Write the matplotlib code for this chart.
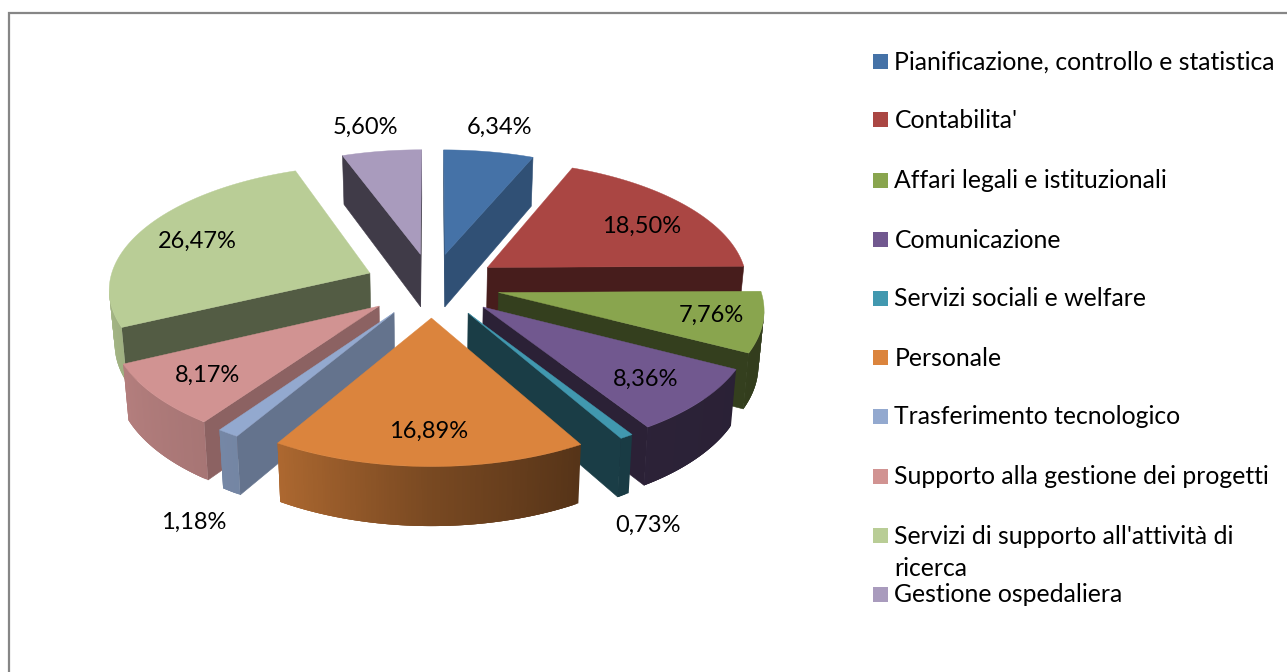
import numpy as np
import matplotlib
matplotlib.use("Agg")
import matplotlib.pyplot as plt
from matplotlib.patches import Polygon, Rectangle
from matplotlib.colors import to_rgb

# ---------- data ----------
categories = ["Pianificazione, controllo e statistica", "Contabilita'",
              "Affari legali e istituzionali", "Comunicazione",
              "Servizi sociali e welfare", "Personale",
              "Trasferimento tecnologico", "Supporto alla gestione dei progetti",
              "Servizi di supporto all'attività di\nricerca", "Gestione ospedaliera"]
values = [6.34, 18.50, 7.76, 8.36, 0.73, 16.89, 1.18, 8.17, 26.47, 5.60]
colors = ["#4572A7", "#AA4643", "#89A54E", "#71588F", "#4198AF",
          "#DB843D", "#93A9CF", "#D19392", "#B9CD96", "#A99BBD"]
cut_shade = [0.70, 0.42, 0.38, 0.38, 0.40, 0.40, 0.68, 0.67, 0.45, 0.38]

# ---------- layout ----------
W, H = 1287, 672
CX, CY = 432, 285
A, B, K = 261, 123.2, 0.115
EXPLODE = 0.26
DEPTH = 53.5
FONT = "Lato"
label_xy = [(500, 127), (642, 226), (711, 315), (646, 379), (648, 525),
            (429, 431), (194, 522), (208, 375), (197, 241), (365, 127)]
legend_y = [62, 120, 181, 240, 299, 358, 417, 477, 536, 595]


def top(u, v):
    w = 1 + K * v
    return CX + A * u / w, CY - B * v / w


def bottom(u, v):
    x, y = top(u, v)
    return CX + (x - CX) * 0.983, y + DEPTH / (1 + 0.7 * K * v)


def wall_shade(deg):
    return np.interp(deg, [90, 150, 180, 211, 245, 270],
                     [0.36, 0.39, 0.55, 0.79, 0.86, 0.90])


fig = plt.figure(figsize=(W / 100, H / 100), dpi=100)
ax = fig.add_axes([0, 0, 1, 1])
ax.set_xlim(0, W)
ax.set_ylim(H, 0)
ax.axis("off")

# chart frame
ax.plot([9, 9, W], [H, 13, 13], color="#868686", lw=1.6, solid_joinstyle="miter")

fractions = np.array(values) / sum(values)
edges = np.concatenate([[0], np.cumsum(fractions)]) * 360
draw_order = [0, 9, 1, 8, 2, 7, 3, 6, 4, 5]

for i in draw_order:
    a0, a1 = edges[i], edges[i + 1]
    mid = np.radians((a0 + a1) / 2)
    ou, ov = EXPLODE * np.sin(mid), EXPLODE * np.cos(mid)
    degs = np.linspace(a0, a1, max(int(a1 - a0) * 2, 4))
    us = ou + np.sin(np.radians(degs))
    vs = ov + np.cos(np.radians(degs))
    base = np.array(to_rgb(colors[i]))
    cut_col = tuple(base * cut_shade[i])
    z = 2 + draw_order.index(i)

    def cut_face(u, v):
        pts = [top(ou, ov), top(u, v), bottom(u, v), bottom(ou, ov)]
        ax.add_patch(Polygon(pts, closed=True, fc=cut_col, ec=cut_col, lw=0.4, zorder=z))

    # visible faces look toward the viewer when the clockwise edge runs leftward
    if top(us[0], vs[0])[0] < top(ou, ov)[0]:
        cut_face(us[0], vs[0])
    if top(ou, ov)[0] < top(us[-1], vs[-1])[0]:
        cut_face(us[-1], vs[-1])
    # outer wall: each strip overlaps the next one, so no seams show
    n = len(degs)
    for j in range(n - 1):
        if top(us[j + 1], vs[j + 1])[0] < top(us[j], vs[j])[0]:
            e = min(j + 3, n - 1)
            col = tuple(base * wall_shade((degs[j] + degs[j + 1]) / 2))
            pts = [top(us[t], vs[t]) for t in range(j, e + 1)] + \
                  [bottom(us[t], vs[t]) for t in range(e, j - 1, -1)]
            ax.add_patch(Polygon(pts, closed=True, fc=col, ec="none", zorder=z))
    outline = [top(ou, ov)] + [top(u, v) for u, v in zip(us, vs)]
    ax.add_patch(Polygon(outline, closed=True, fc=colors[i], ec=colors[i], lw=0.3, zorder=z + 0.5))

# percentage labels
for val, (x, y) in zip(values, label_xy):
    ax.text(x, y, f"{val:.2f}%".replace(".", ","), ha="center", va="center",
            fontsize=17, family=FONT, color="black", zorder=30)

# legend
for name, col, y in zip(categories, colors, legend_y):
    ax.add_patch(Rectangle((873, y - 8.5), 15, 15, fc=col, ec="none", zorder=30))
    parts = name.split("\n")
    for k, line in enumerate(parts):
        ax.text(894.5, y + k * 32, line, ha="left", va="center", fontsize=17.8,
                family=FONT, color="black", zorder=30)

fig.savefig("out.png", dpi=100, facecolor="white")
